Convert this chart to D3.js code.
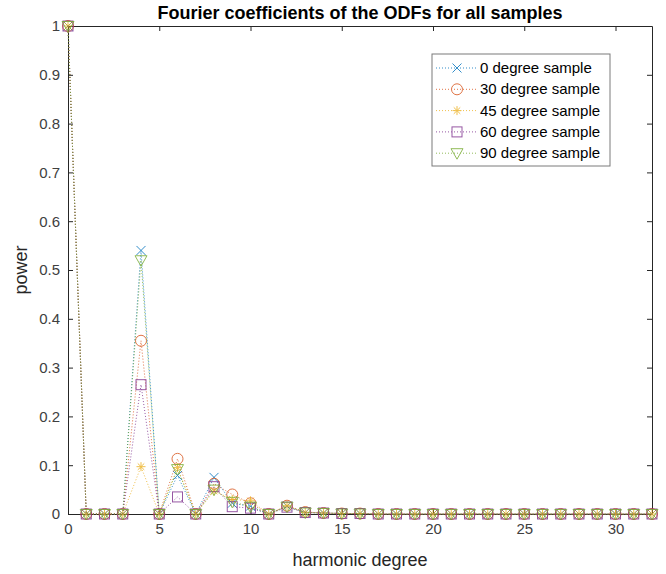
<!DOCTYPE html>
<html>
<head>
<meta charset="utf-8">
<script src="https://cdn.jsdelivr.net/npm/d3@7"></script>
<style>
  html, body { margin: 0; padding: 0; background: #fff; }
  svg { display: block; font-family: "Liberation Sans", Arial, Helvetica, sans-serif; }
</style>
</head>
<body>
<svg id="chart" width="666" height="574"></svg>
<script>
const degrees = [0,1,2,3,4,5,6,7,8,9,10,11,12,13,14,15,16,17,18,19,20,21,22,23,24,25,26,27,28,29,30,31,32];
const sample0  = [1,0,0,0,0.540,0,0.079,0,0.075,0.022,0.016,0,0.016,0.003,0.002,0.001,0.001,0,0,0,0,0,0,0,0,0,0,0,0,0,0,0,0];
const sample30 = [1,0,0,0,0.355,0,0.113,0,0.062,0.040,0.022,0,0.017,0.004,0.002,0.001,0.001,0,0,0,0,0,0,0,0,0,0,0,0,0,0,0,0];
const sample45 = [1,0,0,0,0.097,0,0.095,0,0.047,0.030,0.027,0,0.017,0.003,0.002,0.001,0.001,0,0,0,0,0,0,0,0,0,0,0,0,0,0,0,0];
const sample60 = [1,0,0,0,0.265,0,0.035,0,0.056,0.015,0.012,0,0.014,0.003,0.002,0.001,0.001,0,0,0,0,0,0,0,0,0,0,0,0,0,0,0,0];
const sample90 = [1,0,0,0,0.520,0,0.092,0,0.050,0.025,0.015,0,0.015,0.003,0.002,0.001,0.001,0,0,0,0,0,0,0,0,0,0,0,0,0,0,0,0];
const seriesNames = ["0 degree sample","30 degree sample","45 degree sample","60 degree sample","90 degree sample"];
const seriesValues = [sample0, sample30, sample45, sample60, sample90];
const seriesColors = ["#0072BD","#D95319","#EDB120","#7E2F8E","#77AC30"];
const seriesMarkers = ["x","o","*","s","v"];
const xTicks = [0,5,10,15,20,25,30];
const yTicks = [0,0.1,0.2,0.3,0.4,0.5,0.6,0.7,0.8,0.9,1];

const svg = d3.select("#chart");
const L = 68, R = 652, T = 26, B = 514;
const x = d3.scaleLinear().domain([0,32]).range([L,R]);
const y = d3.scaleLinear().domain([0,1]).range([B,T]);
const axisColor = "#262626";
const textColor = "#404040";

// axes
const gx = svg.append("g").attr("transform",`translate(0,${B})`)
  .call(d3.axisBottom(x).tickValues(xTicks).tickFormat(d3.format("d")).tickSizeInner(-5).tickSizeOuter(0).tickPadding(9));
const gy = svg.append("g").attr("transform",`translate(${L},0)`)
  .call(d3.axisLeft(y).tickValues(yTicks).tickFormat(d => d===0||d===1 ? d3.format("d")(d) : d3.format(".1f")(d)).tickSizeInner(-5).tickSizeOuter(0).tickPadding(8));
const gxt = svg.append("g").attr("transform",`translate(0,${T})`)
  .call(d3.axisTop(x).tickValues(xTicks).tickFormat("").tickSizeInner(-5).tickSizeOuter(0));
const gyr = svg.append("g").attr("transform",`translate(${R},0)`)
  .call(d3.axisRight(y).tickValues(yTicks).tickFormat("").tickSizeInner(-5).tickSizeOuter(0));
[gx,gy,gxt,gyr].forEach(g => {
  g.selectAll("path,line").attr("stroke",axisColor).attr("stroke-width",1);
  g.selectAll("text").attr("fill",textColor).attr("font-size",15).attr("font-family","Liberation Sans, Arial, sans-serif");
});

function drawMarker(g, type, cx, cy, color) {
  const s = 4.5;
  if (type === "x") {
    g.append("path").attr("d",`M${cx-s},${cy-s}L${cx+s},${cy+s}M${cx-s},${cy+s}L${cx+s},${cy-s}`)
      .attr("stroke",color).attr("fill","none").attr("stroke-width",1);
  } else if (type === "o") {
    g.append("circle").attr("cx",cx).attr("cy",cy).attr("r",5.5).attr("stroke",color).attr("fill","none").attr("stroke-width",1);
  } else if (type === "*") {
    const d = s*0.72;
    g.append("path").attr("d",`M${cx-s},${cy}L${cx+s},${cy}M${cx},${cy-s}L${cx},${cy+s}M${cx-d},${cy-d}L${cx+d},${cy+d}M${cx-d},${cy+d}L${cx+d},${cy-d}`)
      .attr("stroke",color).attr("fill","none").attr("stroke-width",1);
  } else if (type === "s") {
    g.append("rect").attr("x",cx-5).attr("y",cy-5).attr("width",10).attr("height",10).attr("stroke",color).attr("fill","none").attr("stroke-width",1);
  } else if (type === "v") {
    g.append("path").attr("d",`M${cx-6},${cy-4.5}L${cx+6},${cy-4.5}L${cx},${cy+6}Z`).attr("stroke",color).attr("fill","none").attr("stroke-width",1);
  }
}

const line = d3.line().x((d,i) => x(degrees[i])).y(d => y(d));
seriesValues.forEach((vals, k) => {
  const g = svg.append("g").attr("opacity",0.8);
  g.append("path").datum(vals).attr("d",line).attr("fill","none")
    .attr("stroke",seriesColors[k]).attr("stroke-width",1).attr("stroke-dasharray","1,2");
  vals.forEach((v,i) => drawMarker(g, seriesMarkers[k], x(degrees[i]), y(v), seriesColors[k]));
});

// title & labels
svg.append("text").attr("x",360).attr("y",19).attr("text-anchor","middle")
  .attr("font-size",18).attr("font-weight","bold").attr("fill","#000").text("Fourier coefficients of the ODFs for all samples");
svg.append("text").attr("x",360).attr("y",566).attr("text-anchor","middle")
  .attr("font-size",18).attr("fill",axisColor).text("harmonic degree");
svg.append("text").attr("transform",`translate(27,${(T+B)/2}) rotate(-90)`).attr("text-anchor","middle")
  .attr("font-size",18).attr("fill",axisColor).text("power");

// legend
const lg = svg.append("g");
lg.append("rect").attr("x",432).attr("y",54).attr("width",178).attr("height",112)
  .attr("fill","#fff").attr("stroke","#7a7a7a").attr("stroke-width",1);
seriesNames.forEach((name,k) => {
  const ly = 68 + k*21.3;
  const g = lg.append("g").attr("opacity",0.8);
  g.append("line").attr("x1",436).attr("x2",477).attr("y1",ly).attr("y2",ly)
    .attr("stroke",seriesColors[k]).attr("stroke-width",1).attr("stroke-dasharray","1,2");
  drawMarker(g, seriesMarkers[k], 457, ly, seriesColors[k]);
  lg.append("text").attr("x",480).attr("y",ly+5).attr("font-size",15).attr("fill","#000").text(name);
});
</script>
</body>
</html>
